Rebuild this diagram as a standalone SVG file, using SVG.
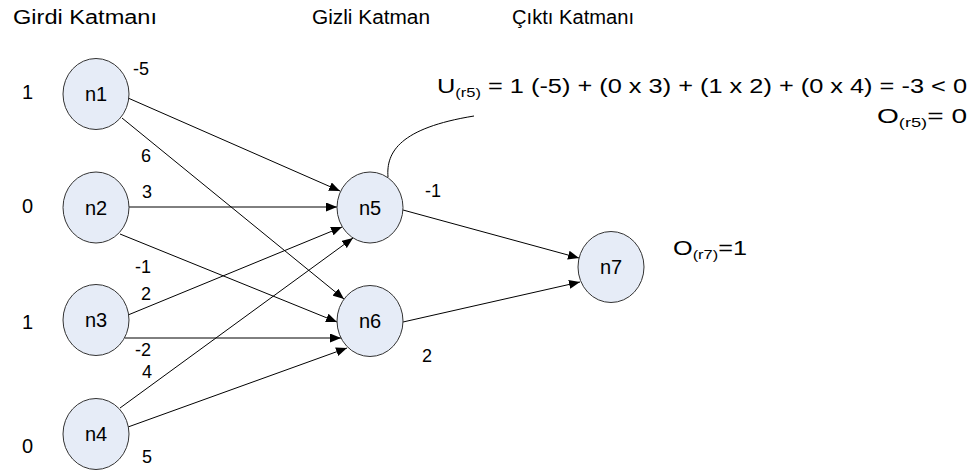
<svg xmlns="http://www.w3.org/2000/svg" width="972" height="474" viewBox="0 0 972 474">
<defs>
<style>
text{font-family:"Liberation Sans",Arial,sans-serif;fill:#000}
.h{font-size:20px}
.in{font-size:20px}
.lbl{font-size:20px;text-anchor:middle}
.w{font-size:18px}
.f{font-size:20px}
.sub{font-size:13px}
.node{fill:#e6ecf7;stroke:#333;stroke-width:1}
.edge{stroke:#000;stroke-width:1;fill:none;marker-end:url(#arr)}
</style>
<marker id="arr" markerUnits="userSpaceOnUse" markerWidth="11" markerHeight="9" refX="11" refY="4.5" orient="auto">
<path d="M0,0 L11,4.5 L0,9 z" fill="#000"/>
</marker>
</defs>
<rect width="972" height="474" fill="#fff"/>
<text class="h" x="13" y="24" textLength="144" lengthAdjust="spacingAndGlyphs">Girdi Katmanı</text>
<text class="h" x="312" y="24" textLength="118" lengthAdjust="spacingAndGlyphs">Gizli Katman</text>
<text class="h" x="512" y="24" textLength="122" lengthAdjust="spacingAndGlyphs">Çıktı Katmanı</text>
<g id="connectors">
<line class="edge" x1="128" y1="98" x2="340" y2="191"/>
<line class="edge" x1="122" y1="118" x2="344" y2="299"/>
<line class="edge" x1="129" y1="207" x2="337" y2="207"/>
<line class="edge" x1="120" y1="234" x2="337" y2="322"/>
<line class="edge" x1="128" y1="315" x2="342" y2="227"/>
<line class="edge" x1="125" y1="338" x2="341" y2="338"/>
<line class="edge" x1="120" y1="408" x2="353" y2="238"/>
<line class="edge" x1="128" y1="427" x2="347" y2="348"/>
<line class="edge" x1="403" y1="210" x2="579" y2="258"/>
<line class="edge" x1="403" y1="322" x2="580" y2="282"/>
<path d="M388 177 C386 152 400 128 474 116" stroke="#000" stroke-width="1" fill="none"/>
</g>
<g id="n1"><ellipse class="node" cx="96" cy="94" rx="33" ry="35.5"/><text class="lbl" x="96" y="101">n1</text></g>
<g id="n2"><ellipse class="node" cx="96" cy="207.5" rx="33" ry="35.5"/><text class="lbl" x="96" y="214.5">n2</text></g>
<g id="n3"><ellipse class="node" cx="96" cy="320" rx="33" ry="35.5"/><text class="lbl" x="96" y="327">n3</text></g>
<g id="n4"><ellipse class="node" cx="96" cy="434" rx="33" ry="35.5"/><text class="lbl" x="96" y="441">n4</text></g>
<g id="n5"><ellipse class="node" cx="370" cy="207.5" rx="33" ry="35.5"/><text class="lbl" x="370" y="214.5">n5</text></g>
<g id="n6"><ellipse class="node" cx="370" cy="321" rx="33" ry="35.5"/><text class="lbl" x="370" y="328">n6</text></g>
<g id="n7"><ellipse class="node" cx="611" cy="267" rx="33" ry="35.5"/><text class="lbl" x="611" y="274">n7</text></g>
<text class="in" x="22" y="99">1</text>
<text class="in" x="22" y="213">0</text>
<text class="in" x="22" y="329">1</text>
<text class="in" x="22" y="453">0</text>
<text class="w" x="133" y="75">-5</text>
<text class="w" x="141" y="162">6</text>
<text class="w" x="142" y="198">3</text>
<text class="w" x="135" y="273">-1</text>
<text class="w" x="141" y="300">2</text>
<text class="w" x="135" y="356">-2</text>
<text class="w" x="142" y="378">4</text>
<text class="w" x="142" y="463">5</text>
<text class="w" x="425" y="197">-1</text>
<text class="w" x="422" y="362">2</text>
<text class="f" x="437" y="93" textLength="530" lengthAdjust="spacingAndGlyphs">U<tspan class="sub" dy="4">(r5)</tspan><tspan dy="-4"> = 1 (-5) + (0 x 3) + (1 x 2) + (0 x 4)  = -3 &lt; 0</tspan></text>
<text class="f" x="877" y="123" textLength="90" lengthAdjust="spacingAndGlyphs">O<tspan class="sub" dy="4">(r5)</tspan><tspan dy="-4">= 0</tspan></text>
<text class="f" x="673" y="255" textLength="74" lengthAdjust="spacingAndGlyphs">O<tspan class="sub" dy="4">(r7)</tspan><tspan dy="-4">=1</tspan></text>
</svg>
